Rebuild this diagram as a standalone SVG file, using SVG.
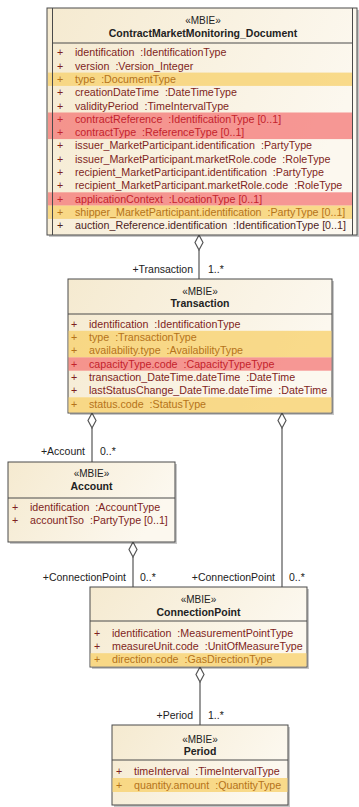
<svg xmlns="http://www.w3.org/2000/svg" width="359" height="807" viewBox="0 0 359 807">
<defs>
<linearGradient id="g" x1="0" y1="0" x2="1" y2="0.3">
<stop offset="0" stop-color="#f5ead0"/>
<stop offset="1" stop-color="#fcf8ef"/>
</linearGradient>
<style>
.box{fill:url(#g);stroke:#4a4a4a;stroke-width:1}
.sh{fill:#000;opacity:.22}
.sep{stroke:#4a4a4a;stroke-width:1}
text{font-family:"Liberation Sans",Arial,sans-serif;white-space:pre}
.st{font-size:10px;fill:#222;text-anchor:middle}
.nm{font-size:10.5px;font-weight:bold;fill:#222;text-anchor:middle}
.a{font-size:10.7px;fill:#7f1f22}
.ay{fill:#b5731a}
.ar{fill:#c4222c}
.ad{fill:#4e1e1e}
.hy{fill:#f7d270;opacity:.8}
.hr{fill:#f46e6e;opacity:.7}
.lbl{font-size:10.5px;fill:#222}
.e{text-anchor:end}
.ln{stroke:#555;stroke-width:1.2;fill:none}
.dia{fill:#fff;stroke:#555;stroke-width:1.2}
</style>
</defs>

<g id="connectors">
<line class="ln" x1="199" y1="250" x2="199" y2="279"/>
<polygon class="dia" points="199,235 203,242.5 199,250 195,242.5"/>
<line class="ln" x1="92" y1="428" x2="92" y2="462"/>
<polygon class="dia" points="92,413 96,420.5 92,428 88,420.5"/>
<line class="ln" x1="282" y1="428" x2="282" y2="587"/>
<polygon class="dia" points="282,413 286,420.5 282,428 278,420.5"/>
<line class="ln" x1="133" y1="557" x2="133" y2="587"/>
<polygon class="dia" points="133,542 137,549.5 133,557 129,549.5"/>
<line class="ln" x1="200" y1="682" x2="200" y2="725"/>
<polygon class="dia" points="200,667 204,674.5 200,682 196,674.5"/>
<text class="lbl e" x="193" y="272.5">+Transaction</text>
<text class="lbl" x="208" y="272.5">1..*</text>
<text class="lbl e" x="85" y="454.5">+Account</text>
<text class="lbl" x="100" y="454.5">0..*</text>
<text class="lbl e" x="126" y="580.5">+ConnectionPoint</text>
<text class="lbl" x="140" y="580.5">0..*</text>
<text class="lbl e" x="275" y="580.5">+ConnectionPoint</text>
<text class="lbl" x="289" y="580.5">0..*</text>
<text class="lbl e" x="193" y="718.5">+Period</text>
<text class="lbl" x="208" y="718.5">1..*</text>
</g>

<g id="ContractMarketMonitoring_Document">
<rect class="sh" x="49" y="10" width="310" height="227"/>
<rect class="box" x="47" y="8" width="310" height="227"/>
<rect class="hy" x="48" y="72.6" width="304" height="13.3"/>
<rect class="hr" x="48" y="112.5" width="304" height="26.6"/>
<rect class="hr" x="48" y="192.3" width="304" height="13.3"/>
<rect class="hy" x="48" y="205.6" width="304" height="13.3"/>
<line class="sep" x1="52.5" y1="8" x2="52.5" y2="235"/>
<line class="sep" x1="352.5" y1="8" x2="352.5" y2="235"/>
<line class="sep" x1="52.5" y1="43" x2="352.5" y2="43"/>
<text class="st" x="203" y="24">«MBIE»</text>
<text class="nm" x="203" y="37">ContractMarketMonitoring_Document</text>
<g class="a">
<text x="57" y="56.3">+</text><text x="75" y="56.3">identification  :IdentificationType</text>
<text x="57" y="69.6">+</text><text x="75" y="69.6">version  :Version_Integer</text>
<text class="ay" x="57" y="82.9">+</text><text class="ay" x="75" y="82.9">type  :DocumentType</text>
<text x="57" y="96.2">+</text><text x="75" y="96.2">creationDateTime  :DateTimeType</text>
<text x="57" y="109.5">+</text><text x="75" y="109.5">validityPeriod  :TimeIntervalType</text>
<text class="ar" x="57" y="122.8">+</text><text class="ar" x="75" y="122.8">contractReference  :IdentificationType [0..1]</text>
<text class="ar" x="57" y="136.1">+</text><text class="ar" x="75" y="136.1">contractType  :ReferenceType [0..1]</text>
<text x="57" y="149.4">+</text><text x="75" y="149.4">issuer_MarketParticipant.identification  :PartyType</text>
<text x="57" y="162.7">+</text><text x="75" y="162.7">issuer_MarketParticipant.marketRole.code  :RoleType</text>
<text x="57" y="176">+</text><text x="75" y="176">recipient_MarketParticipant.identification  :PartyType</text>
<text x="57" y="189.3">+</text><text x="75" y="189.3">recipient_MarketParticipant.marketRole.code  :RoleType</text>
<text class="ar" x="57" y="202.6">+</text><text class="ar" x="75" y="202.6">applicationContext  :LocationType [0..1]</text>
<text class="ay" x="57" y="215.9">+</text><text class="ay" x="75" y="215.9">shipper_MarketParticipant.identification  :PartyType [0..1]</text>
<text class="ad" x="57" y="229.2">+</text><text class="ad" x="75" y="229.2">auction_Reference.identification  :IdentificationType [0..1]</text>
</g>
</g>

<g id="Transaction">
<rect class="sh" x="70" y="281" width="264" height="134"/>
<rect class="box" x="68" y="279" width="264" height="134"/>
<rect class="hy" x="68.5" y="330.8" width="263" height="26.6"/>
<rect class="hr" x="68.5" y="357.4" width="263" height="13.3"/>
<rect class="hy" x="68.5" y="397.3" width="263" height="15.2"/>
<line class="sep" x1="68" y1="314" x2="332" y2="314"/>
<text class="st" x="200" y="295">«MBIE»</text>
<text class="nm" x="200" y="307">Transaction</text>
<g class="a">
<text x="71" y="327.8">+</text><text x="89" y="327.8">identification  :IdentificationType</text>
<text class="ay" x="71" y="341.1">+</text><text class="ay" x="89" y="341.1">type  :TransactionType</text>
<text class="ay" x="71" y="354.4">+</text><text class="ay" x="89" y="354.4">availability.type  :AvailabilityType</text>
<text class="ar" x="71" y="367.7">+</text><text class="ar" x="89" y="367.7">capacityType.code  :CapacityTypeType</text>
<text x="71" y="381">+</text><text x="89" y="381">transaction_DateTime.dateTime  :DateTime</text>
<text x="71" y="394.3">+</text><text x="89" y="394.3">lastStatusChange_DateTime.dateTime  :DateTime</text>
<text class="ay" x="71" y="407.6">+</text><text class="ay" x="89" y="407.6">status.code  :StatusType</text>
</g>
</g>

<g id="Account">
<rect class="sh" x="10" y="464" width="167" height="80"/>
<rect class="box" x="8" y="462" width="167" height="80"/>
<line class="sep" x1="8" y1="498" x2="175" y2="498"/>
<text class="st" x="91.5" y="476.5">«MBIE»</text>
<text class="nm" x="91.5" y="490">Account</text>
<g class="a">
<text x="12" y="510.8">+</text><text x="30" y="510.8">identification  :AccountType</text>
<text x="12" y="524.1">+</text><text x="30" y="524.1">accountTso  :PartyType [0..1]</text>
</g>
</g>

<g id="ConnectionPoint">
<rect class="sh" x="92" y="589" width="217" height="80"/>
<rect class="box" x="90" y="587" width="217" height="80"/>
<rect class="hy" x="90.5" y="653.2" width="216" height="13.3"/>
<line class="sep" x1="90" y1="621" x2="307" y2="621"/>
<text class="st" x="198.5" y="602.5">«MBIE»</text>
<text class="nm" x="198.5" y="615.5">ConnectionPoint</text>
<g class="a">
<text x="94" y="636.8">+</text><text x="112" y="636.8">identification  :MeasurementPointType</text>
<text x="94" y="650.1">+</text><text x="112" y="650.1">measureUnit.code  :UnitOfMeasureType</text>
<text class="ay" x="94" y="663.4">+</text><text class="ay" x="112" y="663.4">direction.code  :GasDirectionType</text>
</g>
</g>

<g id="Period">
<rect class="sh" x="114" y="727" width="176" height="80"/>
<rect class="box" x="112" y="725" width="176" height="80"/>
<rect class="hy" x="112.5" y="778" width="175" height="14"/>
<line class="sep" x1="112" y1="760" x2="288" y2="760"/>
<text class="st" x="200" y="742.5">«MBIE»</text>
<text class="nm" x="200" y="754.5">Period</text>
<g class="a">
<text x="116" y="774.5">+</text><text x="134" y="774.5">timeInterval  :TimeIntervalType</text>
<text class="ay" x="116" y="788.5">+</text><text class="ay" x="134" y="788.5">quantity.amount  :QuantityType</text>
</g>
</g>
</svg>
